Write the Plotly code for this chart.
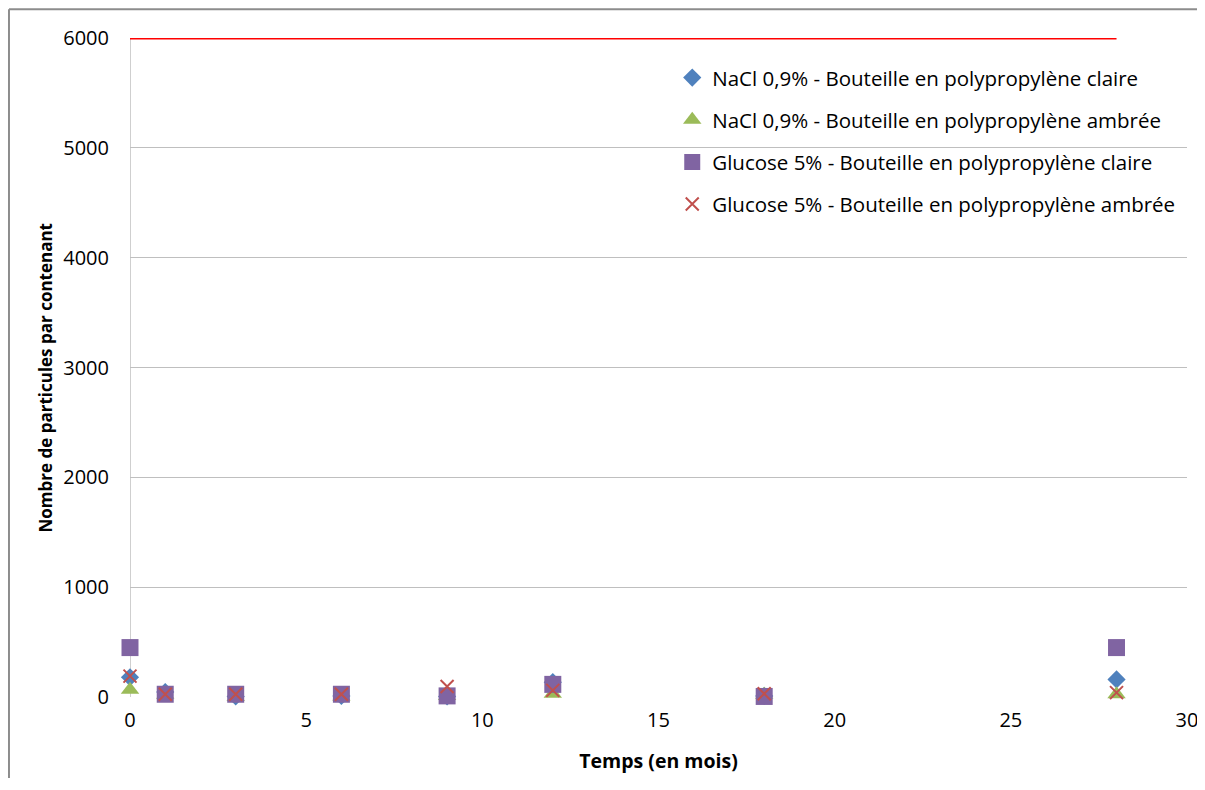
import plotly.graph_objects as go

temps = [0, 1, 3, 6, 9, 12, 18, 28]
nacl_claire = [180, 45, 5, 10, 5, 135, 10, 160]
nacl_ambree = [65, 20, 0, 5, 10, 30, 20, 25]
glucose_claire = [450, 25, 25, 25, 10, 115, 5, 450]
glucose_ambree = [190, 25, 25, 25, 95, 60, 30, 40]
limite_x = [0, 28]
limite_y = [6000, 6000]

names = [
    "NaCl 0,9% - Bouteille en polypropylène claire",
    "NaCl 0,9% - Bouteille en polypropylène ambrée",
    "Glucose 5% - Bouteille en polypropylène claire",
    "Glucose 5% - Bouteille en polypropylène ambrée",
]

FONT = "'Open Sans', Lato, sans-serif"

fig = go.Figure()
fig.add_trace(go.Scatter(x=limite_x, y=limite_y, mode="lines",
                         line=dict(color="#ff0000", width=3),
                         showlegend=False, hoverinfo="skip", cliponaxis=False))
fig.add_trace(go.Scatter(x=temps, y=nacl_claire, mode="markers", name=names[0],
                         legendgroup="a", cliponaxis=False,
                         marker=dict(symbol="diamond", size=14, color="#4f81bd")))
fig.add_trace(go.Scatter(x=temps, y=nacl_ambree, mode="markers", name=names[1],
                         legendgroup="b", cliponaxis=False,
                         marker=dict(symbol="triangle-up", size=16, color="#9bbb59")))
fig.add_trace(go.Scatter(x=temps, y=glucose_claire, mode="markers", name=names[2],
                         legendgroup="c", cliponaxis=False,
                         marker=dict(symbol="square", size=17, color="#8064a2")))
fig.add_trace(go.Scatter(x=temps, y=glucose_ambree, mode="markers", name=names[3],
                         legendgroup="d", cliponaxis=False,
                         marker=dict(symbol="x-thin", size=13,
                                     line=dict(color="#c0504d", width=2))))

fig.update_layout(
    width=1189, height=770,
    margin=dict(l=122, r=10, t=30, b=81),
    paper_bgcolor="white", plot_bgcolor="white",
    font=dict(family=FONT, size=20, color="#000000"),
    legend=dict(x=0.513, y=0.97, xanchor="left", yanchor="top",
                font=dict(size=20.5), tracegroupgap=12.5,
                bgcolor="rgba(255,255,255,0)", traceorder="grouped"),
    xaxis=dict(range=[0, 30], tickvals=[0, 5, 10, 15, 20, 25, 30],
               showgrid=False, zeroline=False, showline=False, automargin=False,
               ticks="", ticklabelstandoff=9, tickfont=dict(size=20),
               ticklabeloverflow="allow",
               title=dict(text="<b>Temps (en mois)</b>", font=dict(size=19.5), standoff=22)),
    yaxis=dict(range=[0, 6000], tickvals=[0, 1000, 2000, 3000, 4000, 5000, 6000],
               showgrid=True, gridcolor="#bfbfbf", gridwidth=1, automargin=False,
               zeroline=False, showline=False, ticks="", ticklabelstandoff=20,
               tickfont=dict(size=20), ticklabeloverflow="allow"),
    annotations=[
        dict(text="<b>Nombre de particules par contenant</b>", textangle=-90,
             xref="paper", yref="paper", x=-0.0804, y=0.4848,
             xanchor="center", yanchor="middle", showarrow=False,
             font=dict(size=17)),
    ],
    shapes=[
        dict(type="line", xref="x", yref="paper", x0=0, x1=0, y0=0, y1=1,
             line=dict(color="#bfbfbf", width=1.5), layer="below"),
        dict(type="line", xref="paper", yref="paper", x0=-0.1145, x1=1.02,
             y0=1.0435, y1=1.0435, line=dict(color="#8c8c8c", width=2)),
        dict(type="line", xref="paper", yref="paper", x0=-0.1145, x1=-0.1145,
             y0=-0.15, y1=1.0435, line=dict(color="#8c8c8c", width=2)),
    ],
)

fig.write_html("out.html")
